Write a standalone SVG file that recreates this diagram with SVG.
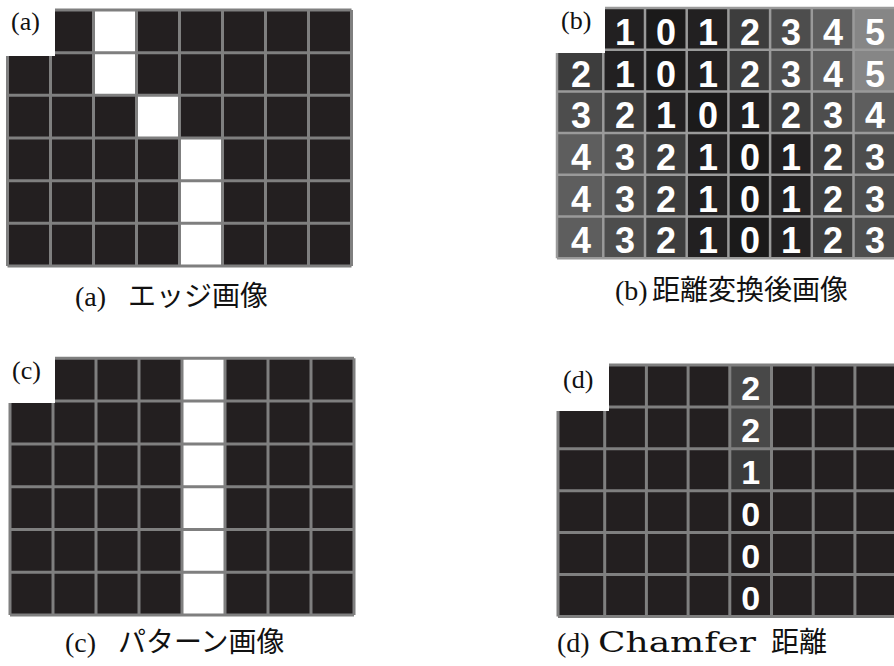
<svg xmlns="http://www.w3.org/2000/svg" width="894" height="666" viewBox="0 0 894 666">
<style>
.dark{fill:#231f20}
.wh{fill:#ffffff}
.grid{fill:none;stroke:#7f7f7f;stroke-width:3}
.gridb{fill:none;stroke:#9a9a9a;stroke-width:2.5}
.lbl{font-family:"Liberation Serif",serif;font-size:26px;fill:#111}
.cap{font-size:28px;fill:#111}
.ser{font-family:"Liberation Serif",serif}
.ser2{font-family:"DejaVu Serif","Liberation Serif",serif;font-size:27px}
.jp{font-family:"Noto Sans CJK JP",sans-serif}
.num{font-family:"Liberation Sans",Arial,sans-serif;font-weight:bold;font-size:36px;fill:#fff;text-anchor:middle}
.numd{font-family:"Liberation Sans",Arial,sans-serif;font-weight:bold;font-size:34px;fill:#fff;text-anchor:middle}
.v0{fill:#1b1a1a}.v1{fill:#222021}.v2{fill:#3d3d3d}.v3{fill:#4d4d4d}.v4{fill:#5e5e5e}.v5{fill:#868686}
</style>
<rect width="894" height="666" fill="#fff"/>

<!-- (a) edge image -->
<g id="panel-a">
<rect class="dark" x="7.5" y="10" width="344" height="256"/>
<rect class="wh" x="93.5" y="10" width="43" height="42.7"/>
<rect class="wh" x="93.5" y="52.7" width="43" height="42.7"/>
<rect class="wh" x="136.5" y="95.3" width="43" height="42.7"/>
<rect class="wh" x="179.5" y="138" width="43" height="128"/>
<path class="grid" d="M7.5 10V266M50.5 10V266M93.5 10V266M136.5 10V266M179.5 10V266M222.5 10V266M265.5 10V266M308.5 10V266M351.5 10V266M7.5 10H351.5M7.5 52.7H351.5M7.5 95.3H351.5M7.5 138H351.5M7.5 180.7H351.5M7.5 223.3H351.5M7.5 266H351.5"/>
<rect class="wh" x="0" y="0" width="55" height="56"/>
<text class="lbl" x="11" y="30">(a)</text>
</g>

<!-- (b) distance transform -->
<g id="panel-b">
<rect class="v2" x="557" y="8" width="337" height="250.2"/>
<g>
<rect class="v1" x="603.3" y="8" width="41.7" height="41.7"/><rect class="v0" x="645" y="8" width="41.7" height="41.7"/><rect class="v1" x="686.7" y="8" width="41.7" height="41.7"/><rect class="v2" x="728.4" y="8" width="41.7" height="41.7"/><rect class="v3" x="770.1" y="8" width="41.7" height="41.7"/><rect class="v4" x="811.8" y="8" width="41.7" height="41.7"/><rect class="v5" x="853.5" y="8" width="41.7" height="41.7"/>
<rect class="v2" x="557" y="49.7" width="46.3" height="41.7"/><rect class="v1" x="603.3" y="49.7" width="41.7" height="41.7"/><rect class="v0" x="645" y="49.7" width="41.7" height="41.7"/><rect class="v1" x="686.7" y="49.7" width="41.7" height="41.7"/><rect class="v2" x="728.4" y="49.7" width="41.7" height="41.7"/><rect class="v3" x="770.1" y="49.7" width="41.7" height="41.7"/><rect class="v4" x="811.8" y="49.7" width="41.7" height="41.7"/><rect class="v5" x="853.5" y="49.7" width="41.7" height="41.7"/>
<rect class="v3" x="557" y="91.4" width="46.3" height="41.7"/><rect class="v2" x="603.3" y="91.4" width="41.7" height="41.7"/><rect class="v1" x="645" y="91.4" width="41.7" height="41.7"/><rect class="v0" x="686.7" y="91.4" width="41.7" height="41.7"/><rect class="v1" x="728.4" y="91.4" width="41.7" height="41.7"/><rect class="v2" x="770.1" y="91.4" width="41.7" height="41.7"/><rect class="v3" x="811.8" y="91.4" width="41.7" height="41.7"/><rect class="v4" x="853.5" y="91.4" width="41.7" height="41.7"/>
<rect class="v4" x="557" y="133.1" width="46.3" height="41.7"/><rect class="v3" x="603.3" y="133.1" width="41.7" height="41.7"/><rect class="v2" x="645" y="133.1" width="41.7" height="41.7"/><rect class="v1" x="686.7" y="133.1" width="41.7" height="41.7"/><rect class="v0" x="728.4" y="133.1" width="41.7" height="41.7"/><rect class="v1" x="770.1" y="133.1" width="41.7" height="41.7"/><rect class="v2" x="811.8" y="133.1" width="41.7" height="41.7"/><rect class="v3" x="853.5" y="133.1" width="41.7" height="41.7"/>
<rect class="v4" x="557" y="174.8" width="46.3" height="41.7"/><rect class="v3" x="603.3" y="174.8" width="41.7" height="41.7"/><rect class="v2" x="645" y="174.8" width="41.7" height="41.7"/><rect class="v1" x="686.7" y="174.8" width="41.7" height="41.7"/><rect class="v0" x="728.4" y="174.8" width="41.7" height="41.7"/><rect class="v1" x="770.1" y="174.8" width="41.7" height="41.7"/><rect class="v2" x="811.8" y="174.8" width="41.7" height="41.7"/><rect class="v3" x="853.5" y="174.8" width="41.7" height="41.7"/>
<rect class="v4" x="557" y="216.5" width="46.3" height="41.7"/><rect class="v3" x="603.3" y="216.5" width="41.7" height="41.7"/><rect class="v2" x="645" y="216.5" width="41.7" height="41.7"/><rect class="v1" x="686.7" y="216.5" width="41.7" height="41.7"/><rect class="v0" x="728.4" y="216.5" width="41.7" height="41.7"/><rect class="v1" x="770.1" y="216.5" width="41.7" height="41.7"/><rect class="v2" x="811.8" y="216.5" width="41.7" height="41.7"/><rect class="v3" x="853.5" y="216.5" width="41.7" height="41.7"/>
</g>
<path class="gridb" d="M557 8V258.2M603.3 8V258.2M645 8V258.2M686.7 8V258.2M728.4 8V258.2M770.1 8V258.2M811.8 8V258.2M853.5 8V258.2M557 8H894M557 49.7H894M557 91.4H894M557 133.1H894M557 174.8H894M557 216.5H894M557 258.2H894"/>
<g class="num">
<text x="625" y="45">1</text><text x="666" y="45">0</text><text x="708" y="45">1</text><text x="750" y="45">2</text><text x="791" y="45">3</text><text x="833" y="45">4</text><text x="875" y="45">5</text>
<text x="581" y="87">2</text><text x="625" y="87">1</text><text x="666" y="87">0</text><text x="708" y="87">1</text><text x="750" y="87">2</text><text x="791" y="87">3</text><text x="833" y="87">4</text><text x="875" y="87">5</text>
<text x="581" y="128">3</text><text x="625" y="128">2</text><text x="666" y="128">1</text><text x="708" y="128">0</text><text x="750" y="128">1</text><text x="791" y="128">2</text><text x="833" y="128">3</text><text x="875" y="128">4</text>
<text x="581" y="170">4</text><text x="625" y="170">3</text><text x="666" y="170">2</text><text x="708" y="170">1</text><text x="750" y="170">0</text><text x="791" y="170">1</text><text x="833" y="170">2</text><text x="875" y="170">3</text>
<text x="581" y="212">4</text><text x="625" y="212">3</text><text x="666" y="212">2</text><text x="708" y="212">1</text><text x="750" y="212">0</text><text x="791" y="212">1</text><text x="833" y="212">2</text><text x="875" y="212">3</text>
<text x="581" y="253">4</text><text x="625" y="253">3</text><text x="666" y="253">2</text><text x="708" y="253">1</text><text x="750" y="253">0</text><text x="791" y="253">1</text><text x="833" y="253">2</text><text x="875" y="253">3</text>
</g>
<rect class="wh" x="547" y="0" width="58" height="53"/>
<text class="lbl" x="561" y="29">(b)</text>
</g>

<!-- (c) pattern image -->
<g id="panel-c">
<rect class="dark" x="10" y="358.3" width="344" height="256.8"/>
<rect class="wh" x="182" y="358.3" width="43" height="256.8"/>
<path class="grid" d="M10 358.3V615.1M53 358.3V615.1M96 358.3V615.1M139 358.3V615.1M182 358.3V615.1M225 358.3V615.1M268 358.3V615.1M311 358.3V615.1M354 358.3V615.1M10 358.3H354M10 401.1H354M10 443.9H354M10 486.7H354M10 529.5H354M10 572.3H354M10 615.1H354"/>
<rect class="wh" x="0" y="350" width="55" height="53"/>
<text class="lbl" x="12" y="379">(c)</text>
</g>

<!-- (d) chamfer distance -->
<g id="panel-d">
<rect class="dark" x="558" y="365" width="336" height="251.4"/>
<rect fill="#484848" x="729.8" y="365" width="41.7" height="83.8"/>
<rect fill="#3b3b3b" x="729.8" y="448.8" width="41.7" height="41.9"/>
<path class="grid" d="M558 365V616.4M604.7 365V616.4M646.4 365V616.4M688.1 365V616.4M729.8 365V616.4M771.5 365V616.4M813.2 365V616.4M854.9 365V616.4M558 365H894M558 406.9H894M558 448.8H894M558 490.7H894M558 532.6H894M558 574.5H894M558 616.4H894"/>
<g class="numd">
<text x="750.6" y="400">2</text><text x="750.6" y="442">2</text><text x="750.6" y="484">1</text><text x="750.6" y="526">0</text><text x="750.6" y="568">0</text><text x="750.6" y="610">0</text>
</g>
<rect class="wh" x="555" y="355" width="54" height="56"/>
<text class="lbl" x="563" y="388">(d)</text>
</g>

<!-- captions -->
<g id="captions" class="cap">
<text y="306"><tspan class="ser" x="75">(a)</tspan><tspan class="jp" x="128">エッジ画像</tspan></text>
<text y="300"><tspan class="ser" x="615">(b)</tspan><tspan class="jp" x="652">距離変換後画像</tspan></text>
<text y="652"><tspan class="ser" x="65">(c)</tspan><tspan class="jp" x="118">パターン画像</tspan></text>
<text y="652"><tspan class="ser" x="557">(d)</tspan><tspan class="ser2" x="598" textLength="158" lengthAdjust="spacingAndGlyphs">Chamfer</tspan><tspan class="jp" x="771">距離</tspan></text>
</g>
</svg>
